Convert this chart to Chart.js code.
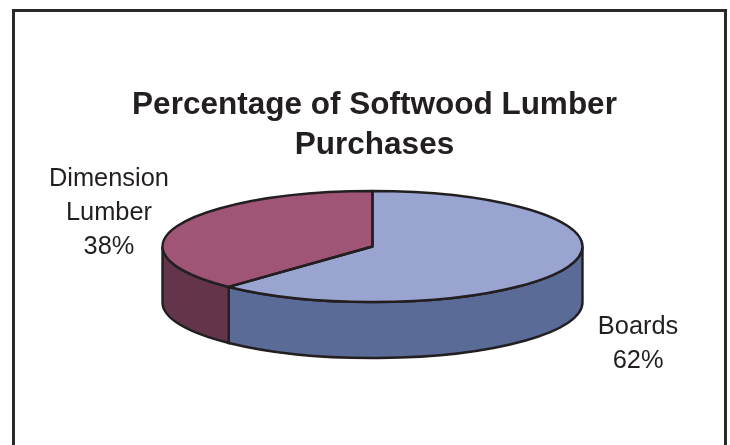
<!DOCTYPE html>
<html>
<head>
<meta charset="utf-8">
<title>Percentage of Softwood Lumber Purchases</title>
<script src="https://cdn.jsdelivr.net/npm/chart.js@4"></script>
<style>
    html, body { margin: 0; padding: 0; background: #fff; overflow: hidden; }
    #wrap { position: relative; width: 730px; height: 445px; }
    #frame {
        position: absolute; left: 12px; top: 9px; width: 709px; height: 445px;
        border: 3px solid #2a2829; box-sizing: content-box;
    }
    #chart { position: absolute; left: 0; top: 0; }
</style>
</head>
<body>
<div id="wrap">
    <div id="frame"></div>
    <canvas id="chart" width="730" height="445"></canvas>
</div>
<script>
const categories = [['Boards'], ['Dimension', 'Lumber']];
const percentages = [62, 38];
const topColors = ['#99a4d1', '#a05476'];
const wallColors = ['#5b6b97', '#63344a'];

const squash = 55.5 / 210; // how flat the tilted disc looks
const depth = 56;
const discShift = -2; // disc sits a little left of the title centre
const lineColor = '#231f20';

const pie3d = {
    id: 'pie3d',
    afterDatasetsUpdate(chart) {
        chart.getDatasetMeta(0).data.forEach(arc => { arc.x += discShift; });
    },
    // Side wall of the disc, drawn under the slices
    beforeDatasetsDraw(chart) {
        const ctx = chart.ctx;
        const arcs = chart.getDatasetMeta(0).data;
        ctx.save();
        ctx.lineWidth = 2.4;
        ctx.strokeStyle = lineColor;
        arcs.forEach((arc, i) => {
            const from = Math.max(arc.startAngle, 0);
            const to = Math.min(arc.endAngle, Math.PI);
            if (to <= from) return;
            const rx = arc.outerRadius;
            const ry = rx * squash;
            ctx.beginPath();
            ctx.ellipse(arc.x, arc.y, rx, ry, 0, from, to);
            ctx.ellipse(arc.x, arc.y + depth, rx, ry, 0, to, from, true);
            ctx.closePath();
            ctx.fillStyle = wallColors[i];
            ctx.fill();
            ctx.stroke();
        });
        // flatten the slices Chart.js is about to draw
        const first = arcs[0];
        ctx.restore();
        ctx.save();
        ctx.translate(0, first.y);
        ctx.scale(1, squash);
        ctx.translate(0, -first.y);
    },
    afterDatasetsDraw(chart) {
        const ctx = chart.ctx;
        const arcs = chart.getDatasetMeta(0).data;
        ctx.restore();

        // outlines go here so the line width is not squashed too
        ctx.save();
        ctx.lineWidth = 2.4;
        ctx.strokeStyle = lineColor;
        ctx.lineJoin = 'round';
        arcs.forEach(arc => {
            const rx = arc.outerRadius;
            const ry = rx * squash;
            ctx.beginPath();
            ctx.moveTo(arc.x, arc.y);
            ctx.ellipse(arc.x, arc.y, rx, ry, 0, arc.startAngle, arc.endAngle);
            ctx.closePath();
            ctx.stroke();
        });

        // slice labels, placed out from the middle of each slice
        ctx.fillStyle = lineColor;
        ctx.font = '25.4px "Liberation Sans", Arial, sans-serif';
        ctx.textAlign = 'center';
        ctx.textBaseline = 'middle';
        arcs.forEach((arc, i) => {
            const mid = (arc.startAngle + arc.endAngle) / 2;
            const x = arc.x + 1 + arc.outerRadius * 1.355 * Math.cos(mid);
            const y = arc.y + depth / 2 + 4 + 178 * Math.sin(mid);
            const lines = categories[i].concat(percentages[i] + '%');
            lines.forEach((line, n) => {
                ctx.fillText(line, x, y + (n - (lines.length - 1) / 2) * 34);
            });
        });
        ctx.restore();
    }
};

new Chart(document.getElementById('chart'), {
    type: 'pie',
    data: {
        labels: categories.map(c => c.join(' ')),
        datasets: [{
            data: percentages,
            backgroundColor: topColors,
            borderWidth: 0,
            clip: false
        }]
    },
    options: {
        responsive: false,
        animation: false,
        radius: 210,
        layout: { padding: { left: 19, right: 0, top: 85, bottom: 117 } },
        plugins: {
            legend: { display: false },
            tooltip: { enabled: false },
            title: {
                display: true,
                text: ['Percentage of Softwood Lumber', 'Purchases'],
                color: lineColor,
                font: { family: '"Liberation Sans", Arial, sans-serif', size: 31.5, weight: 'bold', lineHeight: 1.27 },
                padding: 0
            }
        }
    },
    plugins: [pie3d]
});
</script>
</body>
</html>
